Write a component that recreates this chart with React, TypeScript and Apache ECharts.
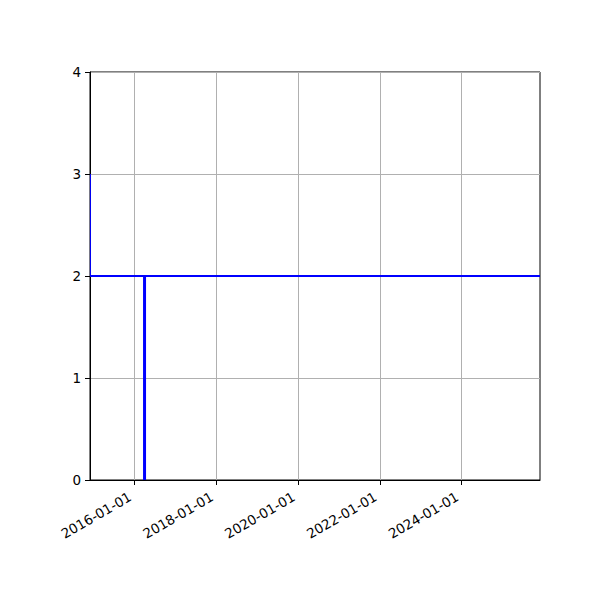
import React, { useEffect, useRef } from 'react';
import * as echarts from 'echarts';

// x range and ticks (dates as [year, month, day])
const xRange: [number, number, number][] = [[2014, 12, 1], [2025, 12, 1]];
const xTicks: [number, number, number][] = [
  [2016, 1, 1], [2018, 1, 1], [2020, 1, 1], [2022, 1, 1], [2024, 1, 1],
];

// thin step at the start: 3 -> 2
const stepDates: [number, number, number][] = [[2014, 12, 5], [2014, 12, 5]];
const stepValues = [3, 2];

// flat level across the whole range
const levelDates: [number, number, number][] = [[2014, 12, 1], [2025, 12, 1]];
const levelValues = [2, 2];

// drop line
const dropDates: [number, number, number][] = [[2016, 4, 1], [2016, 4, 1]];
const dropValues = [0, 2];

const ts = (d: [number, number, number]) => new Date(d[0], d[1] - 1, d[2]).getTime();
const pairs = (dates: [number, number, number][], vals: number[]) =>
  dates.map((d, i) => [ts(d), vals[i]]);
const pad = (n: number) => (n < 10 ? '0' + n : '' + n);
const fmtDate = (v: number) => {
  const d = new Date(v);
  return d.getFullYear() + '-' + pad(d.getMonth() + 1) + '-' + pad(d.getDate());
};

const App: React.FC = () => {
  const chartRef = useRef<HTMLDivElement>(null);

  useEffect(() => {
    if (!chartRef.current) return;
    const chart = echarts.init(chartRef.current, undefined, { renderer: 'svg' });
    const font = 'DejaVu Sans';

    const option: echarts.EChartsOption = {
      animation: false,
      grid: {
        left: 90, right: 60, top: 72, bottom: 120,
        show: true, borderColor: '#000', borderWidth: 1, backgroundColor: 'transparent',
      },
      xAxis: {
        type: 'value',
        min: ts(xRange[0]),
        max: ts(xRange[1]),
        axisLine: { lineStyle: { color: '#000', width: 1 } },
        axisTick: { show: true, inside: false, length: 5, lineStyle: { color: '#000' }, customValues: xTicks.map(ts) } as any,
        axisLabel: {
          customValues: xTicks.map(ts),
          formatter: (v: number) => fmtDate(v),
          rotate: 30,
          margin: 13,
          padding: [0, 5, 0, 0],
          color: '#000',
          fontFamily: font,
          fontSize: 13.5,
        } as any,
        splitLine: { show: true, lineStyle: { color: '#b0b0b0', width: 1 } },
      },
      yAxis: {
        type: 'value',
        min: 0,
        max: 4,
        interval: 1,
        axisLine: { show: true, lineStyle: { color: '#000', width: 1 } },
        axisTick: { show: true, inside: false, length: 5, lineStyle: { color: '#000' } },
        axisLabel: { margin: 9, color: '#000', fontFamily: font, fontSize: 13.5 },
        splitLine: { show: true, lineStyle: { color: '#b0b0b0', width: 1 } },
      },
      series: [
        {
          type: 'line',
          data: pairs(levelDates, levelValues),
          showSymbol: false,
          lineStyle: { color: '#0000ff', width: 2.2 },
          z: 3,
        },
        {
          type: 'line',
          data: pairs(stepDates, stepValues),
          showSymbol: false,
          lineStyle: { color: '#0000ff', width: 1 },
          z: 3,
        },
        {
          type: 'line',
          data: pairs(dropDates, dropValues),
          showSymbol: false,
          lineStyle: { color: '#0000ff', width: 3 },
          z: 4,
        },
      ],
    };

    chart.setOption(option);
    return () => chart.dispose();
  }, []);

  return <div ref={chartRef} style={{ width: 600, height: 600, margin: -8 }} />;
};

export default App;
